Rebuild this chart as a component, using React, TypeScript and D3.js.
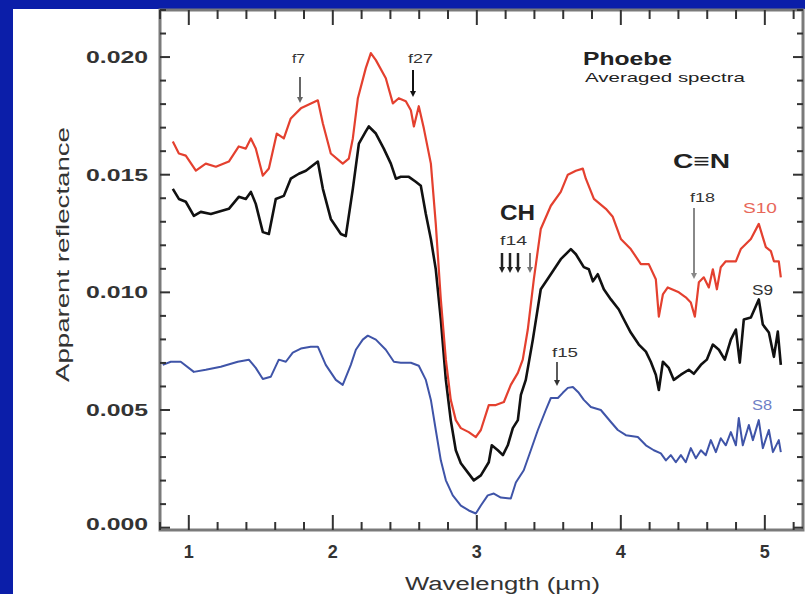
import React from "react";
import * as d3 from "d3";

// ---- data (wavelength in µm, apparent reflectance) ----
const s10Wl = [0.889,0.931,0.979,1.049,1.118,1.188,1.278,1.347,1.396,1.431,1.465,1.514,1.556,1.611,1.660,1.708,1.778,1.896,1.931,1.986,2.069,2.111,2.139,2.174,2.229,2.264,2.299,2.368,2.417,2.458,2.507,2.542,2.563,2.597,2.632,2.681,2.715,2.750,2.785,2.819,2.854,2.889,2.944,2.993,3.028,3.083,3.132,3.188,3.236,3.285,3.319,3.354,3.396,3.444,3.514,3.583,3.632,3.688,3.736,3.757,3.813,3.896,3.944,4.000,4.069,4.139,4.194,4.243,4.264,4.292,4.326,4.403,4.451,4.486,4.514,4.542,4.576,4.611,4.639,4.667,4.694,4.729,4.799,4.833,4.903,4.958,5.007,5.042,5.063,5.097,5.111];
const s10R = [0.01641,0.01590,0.01581,0.01517,0.01547,0.01534,0.01556,0.01620,0.01611,0.01654,0.01611,0.01496,0.01526,0.01675,0.01654,0.01739,0.01782,0.01816,0.01718,0.01590,0.01547,0.01568,0.01654,0.01825,0.01953,0.02017,0.01987,0.01910,0.01803,0.01825,0.01812,0.01774,0.01705,0.01791,0.01697,0.01547,0.01291,0.00970,0.00714,0.00543,0.00457,0.00423,0.00406,0.00385,0.00415,0.00521,0.00521,0.00534,0.00607,0.00658,0.00714,0.00842,0.01056,0.01269,0.01368,0.01427,0.01500,0.01517,0.01526,0.01483,0.01397,0.01355,0.01321,0.01227,0.01184,0.01120,0.01120,0.01056,0.00897,0.00991,0.01021,0.01000,0.00979,0.00957,0.00897,0.01043,0.01064,0.01021,0.01098,0.01013,0.01107,0.01132,0.01132,0.01184,0.01227,0.01291,0.01192,0.01175,0.01132,0.01132,0.01064];

const s9Wl = [0.889,0.931,0.979,1.035,1.083,1.153,1.278,1.347,1.396,1.431,1.465,1.514,1.556,1.604,1.660,1.708,1.764,1.813,1.896,1.931,1.986,2.056,2.090,2.139,2.181,2.229,2.250,2.299,2.354,2.403,2.438,2.472,2.528,2.576,2.611,2.646,2.681,2.715,2.750,2.785,2.819,2.854,2.889,2.937,2.979,3.028,3.083,3.104,3.146,3.181,3.215,3.250,3.285,3.306,3.340,3.389,3.444,3.500,3.583,3.653,3.688,3.743,3.778,3.806,3.840,3.882,3.931,3.986,4.014,4.069,4.125,4.174,4.208,4.243,4.264,4.292,4.333,4.368,4.417,4.472,4.507,4.556,4.597,4.639,4.681,4.722,4.764,4.799,4.826,4.854,4.903,4.958,4.986,5.028,5.063,5.090,5.111];
const s9R = [0.01440,0.01397,0.01385,0.01325,0.01342,0.01333,0.01355,0.01406,0.01397,0.01427,0.01376,0.01256,0.01248,0.01397,0.01410,0.01483,0.01504,0.01517,0.01556,0.01440,0.01312,0.01248,0.01239,0.01440,0.01632,0.01684,0.01705,0.01675,0.01611,0.01547,0.01483,0.01491,0.01491,0.01470,0.01453,0.01333,0.01227,0.01098,0.00885,0.00628,0.00457,0.00329,0.00274,0.00235,0.00201,0.00222,0.00278,0.00350,0.00329,0.00308,0.00350,0.00423,0.00457,0.00564,0.00628,0.00799,0.01013,0.01064,0.01141,0.01184,0.01162,0.01107,0.01098,0.01047,0.01077,0.01013,0.00970,0.00927,0.00893,0.00829,0.00778,0.00748,0.00705,0.00650,0.00585,0.00705,0.00679,0.00628,0.00650,0.00671,0.00654,0.00692,0.00714,0.00778,0.00756,0.00714,0.00799,0.00842,0.00701,0.00885,0.00893,0.00970,0.00863,0.00829,0.00726,0.00833,0.00692];

const s8Wl = [0.819,0.875,0.944,1.035,1.118,1.222,1.340,1.417,1.465,1.514,1.569,1.625,1.674,1.722,1.778,1.847,1.896,1.951,2.021,2.069,2.125,2.160,2.208,2.243,2.299,2.368,2.424,2.472,2.542,2.597,2.646,2.681,2.715,2.750,2.785,2.833,2.889,2.944,2.993,3.028,3.076,3.118,3.167,3.236,3.271,3.326,3.375,3.424,3.479,3.514,3.563,3.597,3.632,3.667,3.708,3.743,3.792,3.861,3.931,3.979,4.035,4.118,4.174,4.229,4.278,4.313,4.347,4.382,4.417,4.451,4.486,4.521,4.556,4.590,4.625,4.660,4.694,4.729,4.764,4.799,4.819,4.847,4.889,4.917,4.958,4.986,5.028,5.056,5.097,5.111];
const s8R = [0.00692,0.00705,0.00705,0.00662,0.00671,0.00684,0.00705,0.00714,0.00679,0.00632,0.00641,0.00714,0.00705,0.00744,0.00761,0.00769,0.00769,0.00692,0.00628,0.00607,0.00692,0.00756,0.00799,0.00816,0.00799,0.00756,0.00705,0.00701,0.00701,0.00688,0.00628,0.00543,0.00415,0.00286,0.00201,0.00137,0.00094,0.00073,0.00060,0.00094,0.00137,0.00145,0.00128,0.00124,0.00192,0.00244,0.00329,0.00415,0.00500,0.00551,0.00551,0.00573,0.00594,0.00598,0.00573,0.00543,0.00513,0.00500,0.00449,0.00415,0.00393,0.00385,0.00350,0.00329,0.00316,0.00286,0.00308,0.00278,0.00308,0.00278,0.00338,0.00295,0.00329,0.00308,0.00372,0.00321,0.00380,0.00350,0.00406,0.00350,0.00466,0.00350,0.00436,0.00372,0.00457,0.00338,0.00415,0.00321,0.00372,0.00321];

const xTicks = [1, 2, 3, 4, 5];
const xTickLabels = ["1", "2", "3", "4", "5"];
const yTicks = [0, 0.005, 0.01, 0.015, 0.02];
const yTickLabels = ["0.000", "0.005", "0.010", "0.015", "0.020"];

const L = 160, R = 803, T = 10, B = 530;
const x = d3.scaleLinear().domain([0.8, 5.265]).range([L, R]);
const y = d3.scaleLinear().domain([-0.0001, 0.022]).range([B, T]);

const mk = (wl: number[], r: number[]) =>
  d3.line<number>().x((_, i) => x(wl[i])).y((v) => y(v))(r) || "";

const xMinor = d3.range(0.8, 5.27, 0.2).filter((v) => Math.abs(v - Math.round(v)) > 0.01);
const yMinor = d3.range(0, 0.0221, 0.001).filter((v) => Math.abs(v / 0.005 - Math.round(v / 0.005)) > 0.01);

function Arrow({ x0, y0, y1, color, w = 2 }: { x0: number; y0: number; y1: number; color: string; w?: number }) {
  return (
    <g>
      <line x1={x0} x2={x0} y1={y0} y2={y1 - 5} stroke={color} strokeWidth={w} />
      <path d={`M${x0 - 3},${y1 - 6} L${x0 + 3},${y1 - 6} L${x0},${y1} Z`} fill={color} />
    </g>
  );
}

export default function App() {
  const font = "'Liberation Sans', Arial, Helvetica, sans-serif";
  return (
    <svg width={805} height={594} style={{ position: "absolute", left: 0, top: 0 }} fontFamily={font}>
      <rect x={0} y={0} width={805} height={594} fill="#0b1ea9" />
      <rect x={13} y={9} width={792} height={585} fill="#ffffff" />

      {/* curves */}
      <path d={mk(s8Wl, s8R)} fill="none" stroke="#3f54a8" strokeWidth={2} strokeLinejoin="round" />
      <path d={mk(s9Wl, s9R)} fill="none" stroke="#111111" strokeWidth={2.6} strokeLinejoin="round" />
      <path d={mk(s10Wl, s10R)} fill="none" stroke="#e4402f" strokeWidth={2.2} strokeLinejoin="round" />

      {/* frame */}
      <rect x={L} y={T} width={R - L} height={B - T} fill="none" stroke="#7a7a7a" strokeWidth={3} />

      {/* x ticks */}
      {xTicks.map((t) => (
        <g key={"xt" + t}>
          <line x1={x(t)} x2={x(t)} y1={B} y2={B - 15} stroke="#333" strokeWidth={2} />
          <line x1={x(t)} x2={x(t)} y1={T} y2={T + 15} stroke="#333" strokeWidth={2} />
        </g>
      ))}
      {xMinor.map((t, i) => (
        <g key={"xm" + i}>
          <line x1={x(t)} x2={x(t)} y1={B} y2={B - 8} stroke="#333" strokeWidth={2} />
          <line x1={x(t)} x2={x(t)} y1={T} y2={T + 9} stroke="#333" strokeWidth={2} />
        </g>
      ))}
      {/* y ticks */}
      {yTicks.map((t) => (
        <g key={"yt" + t}>
          <line x1={L} x2={L + 10} y1={y(t)} y2={y(t)} stroke="#333" strokeWidth={2} />
          <line x1={R} x2={R - 10} y1={y(t)} y2={y(t)} stroke="#333" strokeWidth={2} />
        </g>
      ))}
      {yMinor.map((t, i) => (
        <g key={"ym" + i}>
          <line x1={L} x2={L + 6} y1={y(t)} y2={y(t)} stroke="#333" strokeWidth={2} />
          <line x1={R} x2={R - 6} y1={y(t)} y2={y(t)} stroke="#333" strokeWidth={2} />
        </g>
      ))}

      {/* tick labels */}
      {yTicks.map((t, i) => (
        <text key={"yl" + t} x={86} y={Math.min(y(t), 524) + 6} fontSize={16} fontWeight="bold" fill="#333"
          textLength={62} lengthAdjust="spacingAndGlyphs">{yTickLabels[i]}</text>
      ))}
      {xTicks.map((t, i) => (
        <text key={"xl" + t} x={x(t)} y={558} fontSize={18} fontWeight="bold" fill="#333" textAnchor="middle">
          {xTickLabels[i]}
        </text>
      ))}

      {/* axis titles */}
      <text x={405} y={590} fontSize={18} fill="#333" textLength={195} lengthAdjust="spacingAndGlyphs">Wavelength (µm)</text>
      <text transform="translate(69,382) rotate(-90)" x={0} y={0} fontSize={18} fill="#333"
        textLength={255} lengthAdjust="spacingAndGlyphs">Apparent reflectance</text>

      {/* annotations */}
      <text x={583} y={65} fontSize={18} fontWeight="bold" fill="#222" textLength={89} lengthAdjust="spacingAndGlyphs">Phoebe</text>
      <text x={585} y={82} fontSize={13} fill="#222" textLength={160} lengthAdjust="spacingAndGlyphs">Averaged spectra</text>

      <text x={292} y={63} fontSize={13} fill="#333" textLength={13} lengthAdjust="spacingAndGlyphs">f7</text>
      <Arrow x0={300} y0={77} y1={103} color="#666" />
      <text x={408} y={63} fontSize={13} fill="#333" textLength={25} lengthAdjust="spacingAndGlyphs">f27</text>
      <Arrow x0={413} y0={70} y1={97} color="#111" />

      <text x={500} y={220} fontSize={22} fontWeight="bold" fill="#222" textLength={35} lengthAdjust="spacingAndGlyphs">CH</text>
      <text x={500} y={245} fontSize={13} fill="#333" textLength={27} lengthAdjust="spacingAndGlyphs">f14</text>
      <Arrow x0={502} y0={253} y1={273} color="#222" w={2.5} />
      <Arrow x0={510} y0={253} y1={273} color="#222" w={2.5} />
      <Arrow x0={518} y0={253} y1={273} color="#222" w={2.5} />
      <Arrow x0={530} y0={253} y1={273} color="#777" w={2} />

      <text x={673} y={168} fontSize={20} fontWeight="bold" fill="#222" textLength={57} lengthAdjust="spacingAndGlyphs">C≡N</text>
      <text x={690} y={202} fontSize={13} fill="#333" textLength={25} lengthAdjust="spacingAndGlyphs">f18</text>
      <Arrow x0={694} y0={208} y1={279} color="#888" />

      <text x={552} y={357} fontSize={13} fill="#333" textLength={26} lengthAdjust="spacingAndGlyphs">f15</text>
      <Arrow x0={557} y0={362} y1={386} color="#333" w={1.6} />

      <text x={743} y={213} fontSize={14} fill="#e8685a" textLength={34} lengthAdjust="spacingAndGlyphs">S10</text>
      <text x={752} y={295} fontSize={14} fill="#333" textLength={21} lengthAdjust="spacingAndGlyphs">S9</text>
      <text x={752} y={410} fontSize={14} fill="#6f80c6" textLength={20} lengthAdjust="spacingAndGlyphs">S8</text>
    </svg>
  );
}
